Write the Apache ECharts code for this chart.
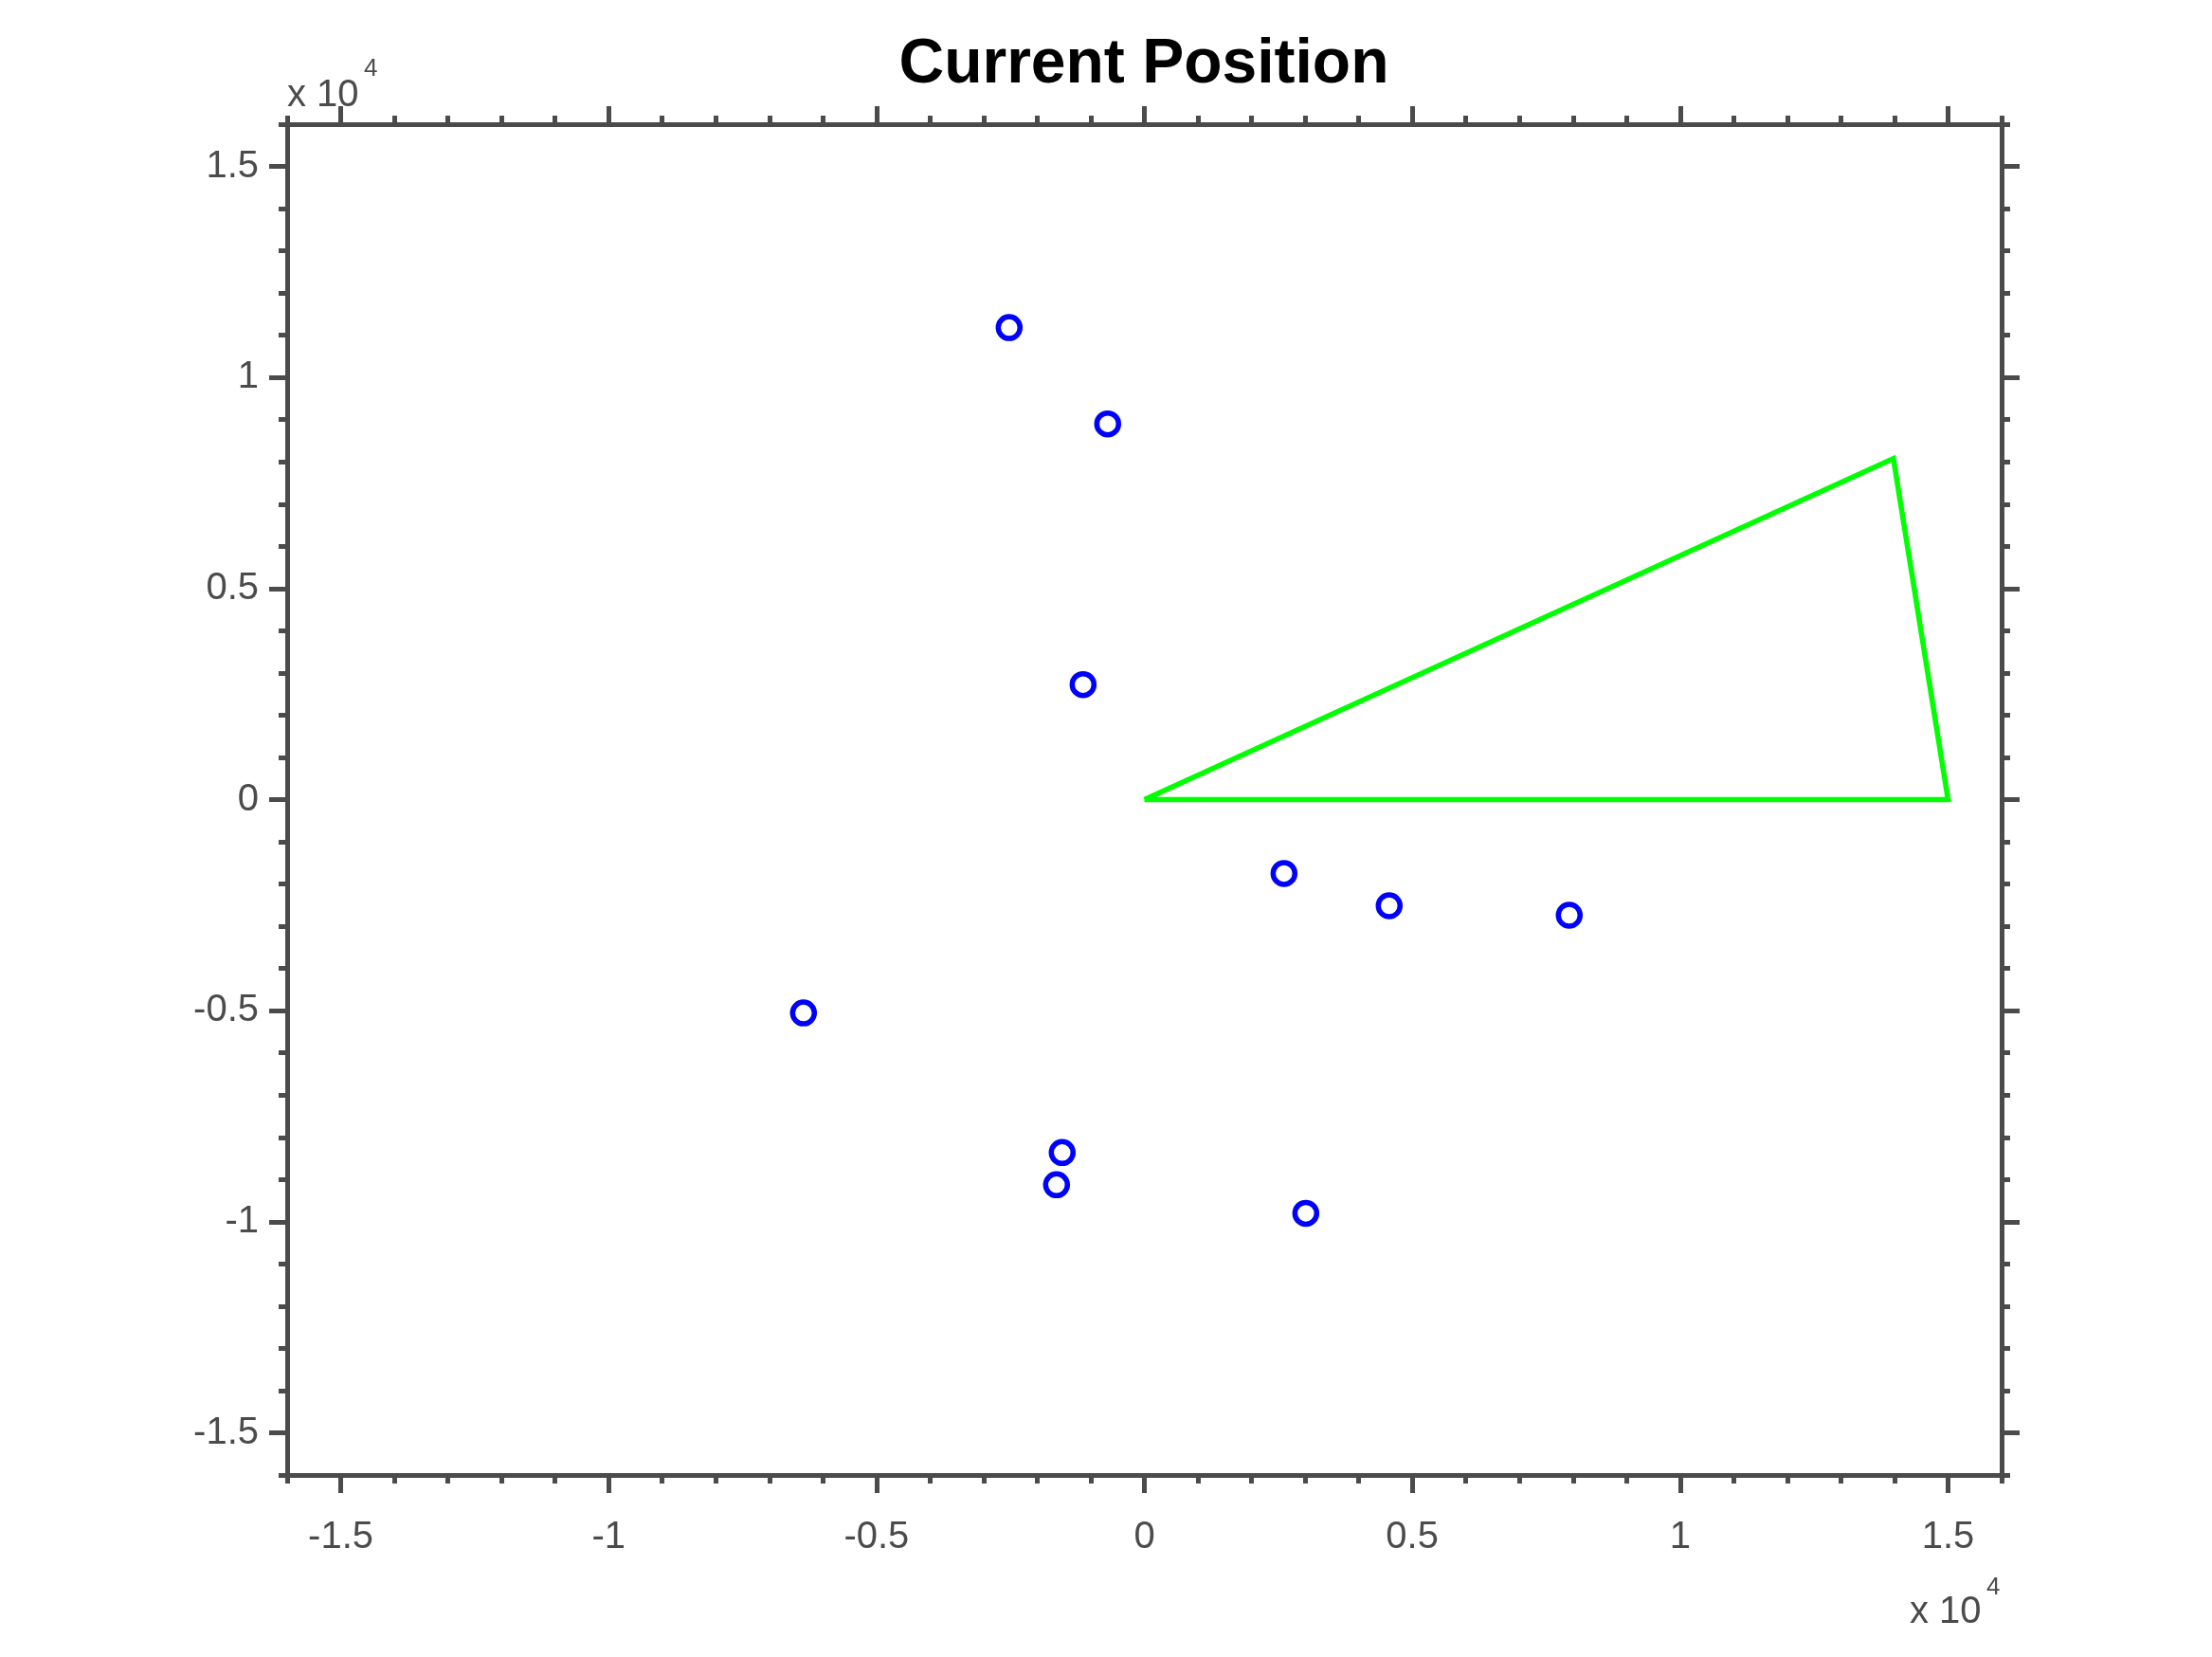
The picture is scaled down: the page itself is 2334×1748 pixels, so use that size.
<!DOCTYPE html>
<html>
<head>
<meta charset="utf-8">
<title>Current Position</title>
<script src="https://cdn.jsdelivr.net/npm/echarts@6/dist/echarts.min.js"></script>
<style>
  html, body { margin: 0; padding: 0; background: #fff; }
  #chart { width: 2334px; height: 1748px; }
</style>
</head>
<body>
<div id="chart"></div>
<script>
// data
const axisRange = [-16000, 16000]
const majorTicks = [-15000, -10000, -5000, 0, 5000, 10000, 15000]
const targetX = [-2524, -685, -1144, 2606, 4569, 7930, -6363, -1534, -1640, 3013]
const targetY = [11181, 8900, 2725, -1750, -2514, -2739, -5055, -8361, -9125, -9800]
const sectorX = [0, 13980, 15000, 0]
const sectorY = [0, 8077, 0, 0]
const exponentText = 'x 10'
const exponentPower = '4'

const axisColor = '#4b4b4b'
const fontFamily = 'Liberation Sans, Arial, sans-serif'

const tickLabel = (v) => String(v / 10000)

// minor (every 1000) or major (custom values) axis; all share the same range
const makeAxis = (position, major, showLabel) => {
  const axis = {
    type: 'value',
    position,
    min: axisRange[0],
    max: axisRange[1],
    axisLine: { show: true, onZero: false, lineStyle: { color: axisColor, width: 5 } },
    axisTick: {
      show: true,
      inside: false,
      length: major ? 19 : 9,
      lineStyle: { color: axisColor, width: 5 }
    },
    axisLabel: { show: false },
    splitLine: { show: false }
  }
  if (major) {
    axis.axisTick.customValues = majorTicks
  } else {
    axis.interval = 1000
  }
  if (showLabel) {
    axis.axisLabel = {
      show: true,
      customValues: majorTicks,
      formatter: tickLabel,
      color: axisColor,
      fontSize: 40,
      fontFamily,
      margin: position === 'left' ? 30 : 46
    }
  }
  return axis
}

const chart = echarts.init(document.getElementById('chart'))

chart.setOption({
  animation: false,
  backgroundColor: '#fff',
  textStyle: { fontFamily },
  grid: { left: 303, right: 222, top: 131, bottom: 192, containLabel: false },
  xAxis: [
    makeAxis('bottom', false, false),
    makeAxis('bottom', true, true),
    makeAxis('top', false, false),
    makeAxis('top', true, false)
  ],
  yAxis: [
    makeAxis('left', false, false),
    makeAxis('left', true, true),
    makeAxis('right', false, false),
    makeAxis('right', true, false)
  ],
  graphic: [
    {
      type: 'text', x: 1207, y: 69,
      style: { text: 'Current Position', fill: '#000', fontSize: 66, fontWeight: 'bold', fontFamily, align: 'center', verticalAlign: 'middle' }
    },
    {
      type: 'text', x: 303, y: 101,
      style: { text: exponentText, fill: axisColor, fontSize: 40, fontFamily, align: 'left', verticalAlign: 'middle' }
    },
    {
      type: 'text', x: 384, y: 73,
      style: { text: exponentPower, fill: axisColor, fontSize: 26, fontFamily, align: 'left', verticalAlign: 'middle' }
    },
    {
      type: 'text', x: 2015, y: 1701,
      style: { text: exponentText, fill: axisColor, fontSize: 40, fontFamily, align: 'left', verticalAlign: 'middle' }
    },
    {
      type: 'text', x: 2096, y: 1675,
      style: { text: exponentPower, fill: axisColor, fontSize: 26, fontFamily, align: 'left', verticalAlign: 'middle' }
    }
  ],
  series: [
    {
      name: 'sector',
      type: 'line',
      xAxisIndex: 0,
      yAxisIndex: 0,
      data: sectorX.map((x, i) => [x, sectorY[i]]),
      showSymbol: false,
      symbol: 'none',
      lineStyle: { color: '#00ff00', width: 5.5, join: 'miter', opacity: 1 },
      z: 2
    },
    {
      name: 'targets',
      type: 'scatter',
      xAxisIndex: 0,
      yAxisIndex: 0,
      data: targetX.map((x, i) => [x, targetY[i]]),
      symbol: 'circle',
      symbolSize: 23,
      itemStyle: { color: 'rgba(0,0,0,0)', borderColor: '#0000ff', borderWidth: 5.5, opacity: 1 },
      z: 3
    }
  ]
})

window.addEventListener('resize', () => chart.resize())
</script>
</body>
</html>
